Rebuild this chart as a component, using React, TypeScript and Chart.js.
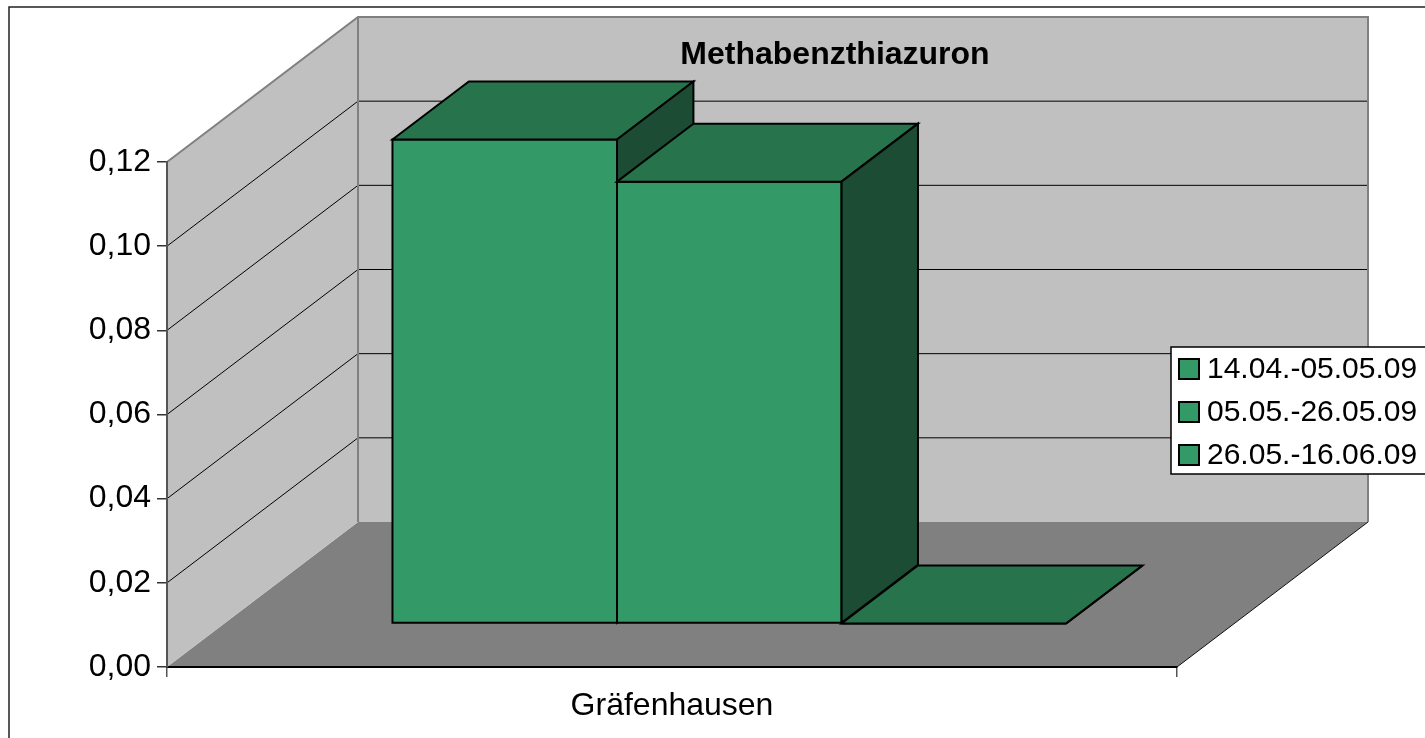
import React, { useEffect, useRef } from "react";
import { Chart, registerables } from "chart.js";

Chart.register(...registerables);

const TITLE = "Methabenzthiazuron";
const CATEGORIES = ["Gräfenhausen"];
const SERIES_LABELS = ["14.04.-05.05.09", "05.05.-26.05.09", "26.05.-16.06.09"];
const SERIES_1 = [0.115];
const SERIES_2 = [0.105];
const SERIES_3 = [0];
const SERIES_VALUES = [SERIES_1, SERIES_2, SERIES_3];
const Y_TICK_VALUES = [0, 0.02, 0.04, 0.06, 0.08, 0.1, 0.12];
const Y_TICK_LABELS = ["0,00", "0,02", "0,04", "0,06", "0,08", "0,10", "0,12"];

const FONT = "'Liberation Sans', Arial, sans-serif";
const DEPTH_X = 191;
const DEPTH_Y = -145;
const BAR_FRONT = 0.3;
const BAR_BACK = 0.7;
const COL_FRONT = "#339966";
const COL_TOP = "#26734C";
const COL_SIDE = "#1C4C33";
const COL_WALL = "#C0C0C0";
const COL_FLOOR = "#808080";

function poly(ctx: CanvasRenderingContext2D, pts: number[][], fill: string | null, stroke: string | null, lw = 1) {
  ctx.beginPath();
  ctx.moveTo(pts[0][0], pts[0][1]);
  for (let i = 1; i < pts.length; i++) ctx.lineTo(pts[i][0], pts[i][1]);
  ctx.closePath();
  if (fill) {
    ctx.fillStyle = fill;
    ctx.fill();
  }
  if (stroke) {
    ctx.strokeStyle = stroke;
    ctx.lineWidth = lw;
    ctx.stroke();
  }
}

function line(ctx: CanvasRenderingContext2D, x1: number, y1: number, x2: number, y2: number, color: string, lw: number) {
  ctx.beginPath();
  ctx.moveTo(x1, y1);
  ctx.lineTo(x2, y2);
  ctx.strokeStyle = color;
  ctx.lineWidth = lw;
  ctx.stroke();
}

const threeD = {
  id: "threeD",
  beforeDraw(chart: any) {
    const ctx: CanvasRenderingContext2D = chart.ctx;
    const { width, height } = chart;
    ctx.save();
    ctx.fillStyle = "#ffffff";
    ctx.fillRect(0, 0, width, height);
    // outer border
    ctx.strokeStyle = "#222";
    ctx.lineWidth = 1.5;
    ctx.strokeRect(9, 7, width + 20, height + 20);

    const xs = chart.scales.x;
    const ys = chart.scales.y;
    const L = xs.left;
    const R = xs.right;
    const B = ys.getPixelForValue(Y_TICK_VALUES[0]);
    const T = ys.getPixelForValue(Y_TICK_VALUES[Y_TICK_VALUES.length - 1]);
    // floor
    poly(ctx, [[L, B], [R, B], [R + DEPTH_X, B + DEPTH_Y], [L + DEPTH_X, B + DEPTH_Y]], COL_FLOOR, null);
    line(ctx, R, B, R + DEPTH_X, B + DEPTH_Y, "#111", 1);
    // left wall
    poly(ctx, [[L, T], [L + DEPTH_X, T + DEPTH_Y], [L + DEPTH_X, B + DEPTH_Y], [L, B]], COL_WALL, null);
    // back wall
    poly(ctx, [[L + DEPTH_X, T + DEPTH_Y], [R + DEPTH_X, T + DEPTH_Y], [R + DEPTH_X, B + DEPTH_Y], [L + DEPTH_X, B + DEPTH_Y]], COL_WALL, null);
    // gridlines
    for (let i = 1; i < Y_TICK_VALUES.length - 1; i++) {
      const y = ys.getPixelForValue(Y_TICK_VALUES[i]);
      line(ctx, L, y, L + DEPTH_X, y + DEPTH_Y, "#000", 1);
      line(ctx, L + DEPTH_X, y + DEPTH_Y, R + DEPTH_X, y + DEPTH_Y, "#000", 1);
    }
    // wall borders
    ctx.beginPath();
    ctx.moveTo(L, T);
    ctx.lineTo(L + DEPTH_X, T + DEPTH_Y);
    ctx.lineTo(R + DEPTH_X, T + DEPTH_Y);
    ctx.lineTo(R + DEPTH_X, B + DEPTH_Y);
    ctx.moveTo(L + DEPTH_X, T + DEPTH_Y);
    ctx.lineTo(L + DEPTH_X, B + DEPTH_Y);
    ctx.strokeStyle = "#808080";
    ctx.lineWidth = 2;
    ctx.stroke();
    ctx.restore();
  },
  afterDatasetsDraw(chart: any) {
    const ctx: CanvasRenderingContext2D = chart.ctx;
    ctx.save();
    ctx.lineJoin = "miter";
    const fx = DEPTH_X * BAR_FRONT;
    const fy = DEPTH_Y * BAR_FRONT;
    const bx = DEPTH_X * BAR_BACK;
    const by = DEPTH_Y * BAR_BACK;
    chart.data.datasets.forEach((_ds: any, i: number) => {
      const meta = chart.getDatasetMeta(i);
      meta.data.forEach((bar: any) => {
        const p = bar.getProps(["x", "y", "base", "width"], true);
        const l = p.x - p.width / 2;
        const r = p.x + p.width / 2;
        const y = p.y;
        const b = p.base;
        poly(ctx, [[l + fx, y + fy], [r + fx, y + fy], [r + fx, b + fy], [l + fx, b + fy]], COL_FRONT, "#000", 2);
        poly(ctx, [[l + fx, y + fy], [l + bx, y + by], [r + bx, y + by], [r + fx, y + fy]], COL_TOP, "#000", 2);
        poly(ctx, [[r + fx, y + fy], [r + bx, y + by], [r + bx, b + by], [r + fx, b + fy]], COL_SIDE, "#000", 2);
      });
    });
    ctx.restore();
  },
  afterDraw(chart: any) {
    const ctx: CanvasRenderingContext2D = chart.ctx;
    ctx.save();
    // title
    ctx.fillStyle = "#000";
    ctx.font = `bold 32px ${FONT}`;
    ctx.textAlign = "center";
    ctx.textBaseline = "middle";
    ctx.fillText(TITLE, 835, 55);
    // legend
    const lx = 1171;
    const ly = 347;
    ctx.fillStyle = "#fff";
    ctx.fillRect(lx, ly, 300, 127);
    ctx.strokeStyle = "#000";
    ctx.lineWidth = 1.5;
    ctx.strokeRect(lx, ly, 300, 127);
    ctx.font = `30px ${FONT}`;
    ctx.textAlign = "left";
    ctx.textBaseline = "middle";
    SERIES_LABELS.forEach((label, i) => {
      const cy = 369 + i * 43;
      ctx.fillStyle = COL_FRONT;
      ctx.fillRect(1179, cy - 10, 20, 20);
      ctx.strokeStyle = "#000";
      ctx.lineWidth = 2;
      ctx.strokeRect(1179, cy - 10, 20, 20);
      ctx.fillStyle = "#000";
      ctx.fillText(label, 1207, cy + 1);
    });
    ctx.restore();
  },
};

export default function App() {
  const ref = useRef<HTMLCanvasElement>(null);
  useEffect(() => {
    if (!ref.current) return;
    const chart = new Chart(ref.current, {
      type: "bar",
      data: {
        labels: CATEGORIES,
        datasets: SERIES_LABELS.map((label, i) => ({
          label,
          data: SERIES_VALUES[i],
          backgroundColor: "rgba(0,0,0,0)",
          borderWidth: 0,
          categoryPercentage: 0.667,
          barPercentage: 1,
        })),
      },
      options: {
        responsive: false,
        animation: false,
        events: [],
        layout: { padding: { left: 0, right: 248, top: 162, bottom: 0 } },
        plugins: {
          legend: { display: false },
          tooltip: { enabled: false },
          title: { display: false },
        },
        scales: {
          x: {
            type: "category",
            offset: true,
            grid: { offset: true, drawOnChartArea: false, drawTicks: true, tickLength: 10, color: "#555", lineWidth: 1.5 },
            border: { display: true, color: "#000", width: 2 },
            ticks: { font: { family: FONT, size: 32 }, color: "#000", padding: 10 },
            afterFit: (s: any) => {
              s.height = 71;
            },
          },
          y: {
            type: "linear",
            min: Y_TICK_VALUES[0],
            max: Y_TICK_VALUES[Y_TICK_VALUES.length - 1],
            afterBuildTicks: (s: any) => {
              s.ticks = Y_TICK_VALUES.map((v) => ({ value: v }));
            },
            ticks: {
              callback: (_v: any, i: number) => Y_TICK_LABELS[i],
              font: { family: FONT, size: 32 },
              color: "#000",
              padding: 6,
            },
            grid: { drawOnChartArea: false, drawTicks: true, tickLength: 10, color: "#333", lineWidth: 1.5 },
            border: { display: true, color: "#555", width: 2 },
            afterFit: (s: any) => {
              s.width = 167;
            },
          },
        },
      },
      plugins: [threeD],
    });
    return () => chart.destroy();
  }, []);
  return (
    <div style={{ position: "absolute", left: 0, top: 0, width: 1425, height: 738 }}>
      <canvas ref={ref} width={1425} height={738} style={{ display: "block" }} />
    </div>
  );
}
